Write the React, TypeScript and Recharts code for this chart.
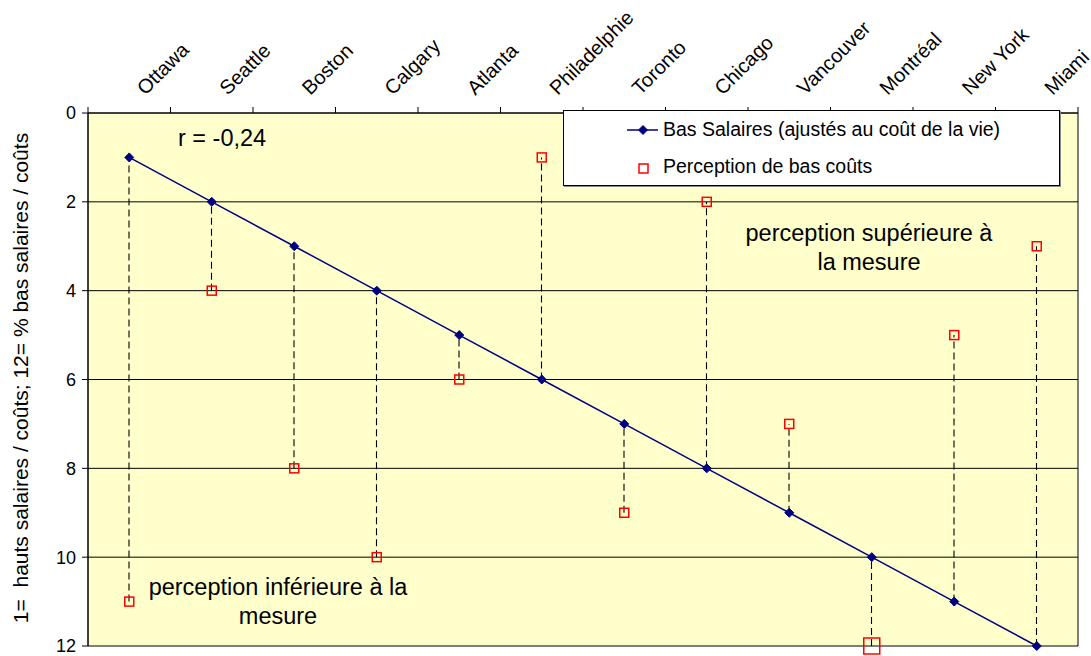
import React from 'react';
import { ComposedChart, Line, Bar, XAxis, YAxis, CartesianGrid, Legend } from 'recharts';

const cities = ['Ottawa', 'Seattle', 'Boston', 'Calgary', 'Atlanta', 'Philadelphie', 'Toronto', 'Chicago', 'Vancouver', 'Montréal', 'New York', 'Miami'];
const basSalaires = [1, 2, 3, 4, 5, 6, 7, 8, 9, 10, 11, 12];
const perception = [11, 4, 8, 10, 6, 1, 9, 2, 7, 12, 5, 3];
const yTicks = [0, 2, 4, 6, 8, 10, 12];

const data = cities.map((city, i) => ({
  city,
  salaires: basSalaires[i],
  perception: perception[i],
  range: [Math.min(basSalaires[i], perception[i]), Math.max(basSalaires[i], perception[i])],
}));

const FONT = '"Liberation Sans", Arial, sans-serif';
const NAVY = '#000080';
const RED = '#FF0000';

const CityTick = (props: any) => {
  const { x, y, payload, index } = props;
  const off = payload && payload.offset != null ? payload.offset : 0;
  return (
    <g>
      {index === 0 && <line x1={x - off} x2={x - off} y1={y} y2={y - 6} stroke="#000" />}
      <line x1={x + off} x2={x + off} y1={y} y2={y - 6} stroke="#000" />
      <text
        transform={`translate(${x + 16},${y - 17}) rotate(-45)`}
        textAnchor="start"
        fontFamily={FONT}
        fontSize={20}
        fill="#000"
      >
        {payload.value}
      </text>
    </g>
  );
};

const DashShape = (props: any) => {
  const { x, y, width, height } = props;
  if (x == null || y == null) return null;
  const cx = x + width / 2;
  return <line x1={cx} x2={cx} y1={y} y2={y + height} stroke="#000" strokeDasharray="7 4" strokeWidth={1.1} />;
};

const Diamond = (props: any) => {
  const { cx, cy } = props;
  if (cx == null || cy == null) return null;
  const s = 4.5;
  return <path d={`M${cx},${cy - s}L${cx + s},${cy}L${cx},${cy + s}L${cx - s},${cy}Z`} fill={NAVY} stroke={NAVY} />;
};

const Square = (props: any) => {
  const { cx, cy, payload } = props;
  if (cx == null || cy == null) return null;
  const big = payload && payload.city === 'Montréal';
  const h = big ? 8 : 4.5;
  return <rect x={cx - h} y={cy - h} width={2 * h} height={2 * h} fill="none" stroke={RED} strokeWidth={1.5} />;
};

const LegendBox = () => (
  <div style={{ width: 497, height: 76, background: '#fff', border: '1px solid #000', boxShadow: '1px 1px 0 #888', boxSizing: 'border-box' }}>
    <svg width={495} height={74} style={{ display: 'block' }}>
      <line x1={63} x2={94} y1={19} y2={19} stroke={NAVY} strokeWidth={1.5} />
      <Diamond cx={79} cy={19} />
      <text x={99} y={25} fontFamily={FONT} fontSize={19.5} fill="#000">Bas Salaires (ajustés au coût de la vie)</text>
      <rect x={75} y={53} width={9} height={9} fill="none" stroke={RED} strokeWidth={1.5} />
      <text x={99} y={62} fontFamily={FONT} fontSize={19.5} fill="#000">Perception de bas coûts</text>
    </svg>
  </div>
);

export default function App() {
  return (
    <div style={{ position: 'absolute', left: 0, top: 0, width: 1091, height: 656, background: '#fff', fontFamily: FONT }}>
      <ComposedChart width={1091} height={656} data={data} margin={{ top: 13, right: 13, bottom: 10, left: 28 }}>
        <CartesianGrid
          fill="#FFFFCC"
          stroke="#000"
          horizontal={true}
          vertical={true}
          verticalCoordinatesGenerator={(p: any) => [p.offset.left, p.offset.left + p.offset.width]}
        />
        <XAxis
          dataKey="city"
          orientation="top"
          height={100}
          interval={0}
          tickSize={0}
          tickMargin={0}
          tickLine={false}
          axisLine={{ stroke: '#000' }}
          tick={<CityTick />}
        />
        <YAxis
          reversed
          type="number"
          domain={[0, 12]}
          ticks={yTicks}
          width={60}
          tickSize={6}
          tickMargin={6}
          axisLine={{ stroke: '#000' }}
          tickLine={{ stroke: '#000' }}
          tick={{ fill: '#000', fontSize: 18, fontFamily: FONT }}
          interval={0}
        />
        <Legend layout="vertical" align="center" verticalAlign="middle" content={() => <LegendBox />} wrapperStyle={{ left: 563, top: 110, width: 497, height: 76 }} />
        <Bar dataKey="range" shape={<DashShape />} isAnimationActive={false} legendType="none" barSize={2} />
        <Line dataKey="salaires" stroke={NAVY} strokeWidth={1.5} dot={<Diamond />} activeDot={false} isAnimationActive={false} />
        <Line dataKey="perception" stroke="none" dot={<Square />} activeDot={false} isAnimationActive={false} />
      </ComposedChart>
      <svg width={1091} height={656} style={{ position: 'absolute', left: 0, top: 0, pointerEvents: 'none' }}>
        <text x={178} y={146} fontFamily={FONT} fontSize={23.5} fill="#000">r = -0,24</text>
        <text x={869} y={241} textAnchor="middle" fontFamily={FONT} fontSize={23.5} fill="#000">perception supérieure à</text>
        <text x={869} y={270} textAnchor="middle" fontFamily={FONT} fontSize={23.5} fill="#000">la mesure</text>
        <text x={278} y={595} textAnchor="middle" fontFamily={FONT} fontSize={23.5} fill="#000">perception inférieure à la</text>
        <text x={278} y={624} textAnchor="middle" fontFamily={FONT} fontSize={23.5} fill="#000">mesure</text>
        <text transform="translate(28,378) rotate(-90)" textAnchor="middle" fontFamily={FONT} fontSize={21} fill="#000" xmlSpace="preserve">1=  hauts salaires / coûts; 12= % bas salaires / coûts</text>
      </svg>
    </div>
  );
}
